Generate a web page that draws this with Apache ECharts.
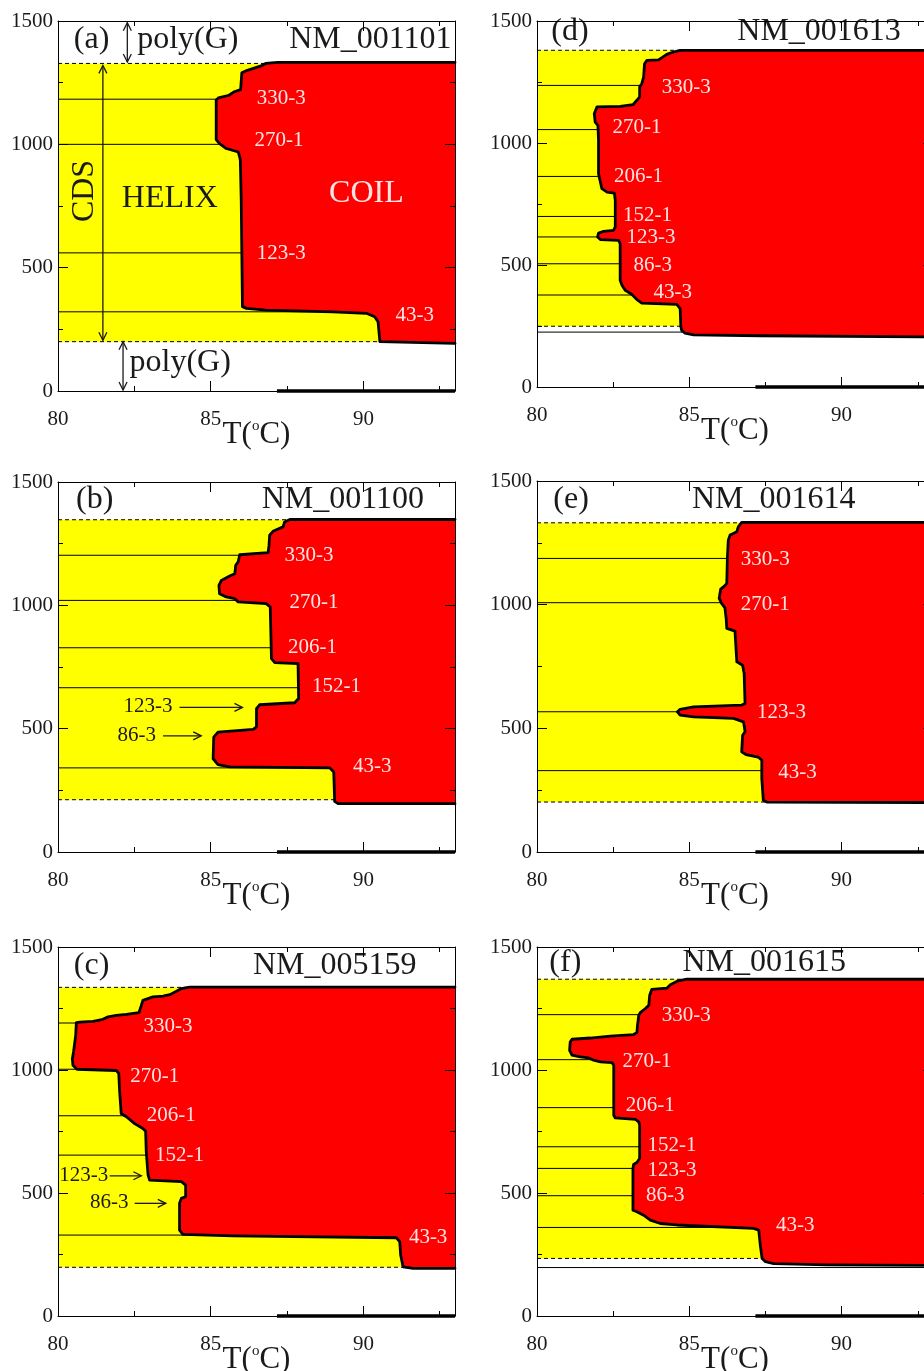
<!DOCTYPE html>
<html><head><meta charset="utf-8">
<script src="https://cdn.jsdelivr.net/npm/echarts@6/dist/echarts.min.js"></script>
<style>html,body{margin:0;padding:0;background:#fff}#c{width:924px;height:1371px}</style>
</head><body><div id="c"></div>
<script>
// ---------- axis ranges ----------
const xRange = [80, 93];
const xStep = 5;
const xMinorStep = 2.5;
const yRange = [0, 1500];
const yStep = 500;

// ---------- panel titles ----------
const panelTags = ['(a)', '(b)', '(c)', '(d)', '(e)', '(f)'];
const geneIds = ['NM_001101', 'NM_001100', 'NM_005159', 'NM_001613', 'NM_001614', 'NM_001615'];
const tagAnchors = [[81.1, 1424], [81.2, 1428], [81.1, 1423], [81.08, 1455], [81.12, 1423], [80.93, 1437]];
const geneAnchors = [[90.23, 1424], [89.33, 1428], [89.06, 1423], [89.26, 1455], [87.77, 1423], [87.46, 1437]];

// poly(G) melting segment on the baseline (same in all panels)
const baseMelt = [[87.17, 0, 93, 0]];

// ---------- (a) NM_001101 ----------
const cdsA = [200, 1328];
const exonA = [1183, 1000, 560, 321];
const boundaryA = [[93,1332],[87.2,1332],[86.8,1328],[86.65,1318],[86.2,1300],[86.02,1290],[85.98,1222],[85.75,1212],[85.6,1199],[85.25,1188],[85.18,1180],[85.18,1019],[85.29,1003],[85.51,983],[85.9,969],[85.95,949],[85.97,936],[86.0,774],[86.04,342],[86.17,335],[86.82,328],[89.0,321],[90.1,315],[90.37,301],[90.48,281],[90.54,200],[90.59,196],[93,193]];
const labelsA = [['330-3',87.31,1185],['270-1',87.24,1017],['123-3',87.31,558],['43-3',91.68,308]];
const darkNotesA = [['HELIX',83.66,782],['poly(G)',84.25,1426],['poly(G)',84.0,117]];
const lightNotesA = [['COIL',90.1,802]];
const rotNotesA = [['CDS',80.87,811]];
const doubleArrowsA = [[82.27,1493,82.27,1334],[81.47,1320,81.47,206],[82.13,200,82.13,4]];

// ---------- (b) NM_001100 ----------
const cdsB = [212, 1347];
const exonB = [1203, 1020, 828, 666, 341];
const boundaryB = [[93,1348],[87.59,1348],[87.42,1338],[87.37,1318],[87.04,1300],[86.93,1284],[86.91,1243],[86.88,1214],[85.95,1205],[85.9,1176],[85.82,1162],[85.79,1128],[85.62,1119],[85.35,1101],[85.27,1081],[85.29,1047],[85.51,1034],[85.79,1027],[85.9,1014],[86.82,1007],[86.95,993],[86.99,784],[87.1,768],[87.86,764],[87.88,622],[87.75,605],[86.6,597],[86.5,581],[86.5,507],[86.39,497],[85.24,486],[85.1,466],[85.08,378],[85.24,354],[85.62,345],[88.9,341],[89.03,324],[89.06,205],[89.17,196],[93,196]];
const labelsB = [['330-3',88.22,1203],['270-1',88.38,1011],['206-1',88.33,828],['152-1',89.12,669],['43-3',90.29,345]];
const darkNotesB = [['123-3',82.95,588],['86-3',82.58,473]];
const arrowsB = [[83.98,586,86.04,586],[83.44,471,84.69,471]];

// ---------- (c) NM_005159 ----------
const cdsC = [198, 1336];
const exonC = [1191, 1003, 814, 654, 329];
const boundaryC = [[93,1337],[84.31,1337],[84.04,1331],[83.88,1320],[83.66,1306],[83.44,1300],[83.11,1297],[82.78,1283],[82.73,1263],[82.65,1233],[82.24,1226],[81.91,1222],[81.64,1216],[81.47,1206],[81.15,1198],[80.71,1195],[80.6,1193],[80.58,1141],[80.51,1074],[80.47,1046],[80.49,1019],[80.62,1003],[81.91,998],[81.99,986],[82.02,911],[82.07,823],[82.24,810],[82.51,782],[82.78,762],[82.87,751],[82.89,667],[82.95,573],[83.0,552],[84.04,546],[84.18,532],[84.18,485],[84.04,478],[83.98,458],[83.98,349],[84.09,332],[85.73,326],[91.08,318],[91.19,302],[91.22,248],[91.3,200],[91.63,194],[93,194]];
const labelsC = [['330-3',83.6,1178],['270-1',83.17,975],['206-1',83.71,814],['152-1',83.98,654],['43-3',92.12,319]];
const darkNotesC = [['123-3',80.84,570],['86-3',81.68,460]];
const arrowsC = [[81.69,570,82.73,570],[82.51,458,83.53,458]];

// ---------- (d) NM_001613 ----------
const cdsD = [249, 1380];
const exonD = [1236, 1055, 863, 699, 615, 505, 377, 225];
const boundaryD = [[93,1380],[84.7,1380],[84.48,1373],[84.26,1363],[84.1,1350],[83.99,1341],[83.61,1339],[83.53,1325],[83.5,1270],[83.44,1243],[83.37,1230],[83.37,1189],[83.28,1175],[83.15,1157],[82.73,1150],[81.97,1148],[81.88,1120],[81.91,1086],[82.0,1072],[82.02,1011],[82.02,874],[82.08,840],[82.13,813],[82.3,799],[82.54,795],[82.57,765],[82.57,656],[82.51,642],[82.19,638],[82.02,631],[81.99,615],[82.08,604],[82.68,601],[82.73,587],[82.73,437],[82.79,417],[82.9,396],[83.11,380],[83.28,358],[83.44,344],[84.59,339],[84.7,321],[84.72,249],[84.75,232],[84.86,221],[85.14,214],[87.32,210],[93,205]];
const labelsD = [['330-3',84.9,1227],['270-1',83.28,1063],['206-1',83.33,861],['152-1',83.63,704],['123-3',83.74,611],['86-3',83.8,499],['43-3',84.46,389]];

// ---------- (e) NM_001614 ----------
const cdsE = [202, 1331];
const exonE = [1187, 1008, 567, 329];
const boundaryE = [[93,1333],[86.72,1333],[86.61,1315],[86.56,1295],[86.34,1282],[86.28,1261],[86.25,1187],[86.23,1086],[86.17,1077],[86.03,1063],[85.98,1025],[86.06,1005],[86.17,987],[86.21,944],[86.23,904],[86.5,893],[86.54,809],[86.56,769],[86.75,755],[86.8,722],[86.83,600],[86.72,594],[85.14,587],[84.7,577],[84.61,567],[84.7,553],[85.14,546],[86.45,540],[86.78,526],[86.83,486],[86.75,472],[86.72,405],[86.86,394],[87.26,384],[87.38,371],[87.38,297],[87.43,209],[87.54,202],[93,200]];
const labelsE = [['330-3',87.49,1184],['270-1',87.49,1001],['123-3',88.03,564],['43-3',88.55,321]];

// ---------- (f) NM_001615 ----------
const cdsF = [234, 1369];
const exonF = [1225, 1042, 847, 688, 600, 489, 360, 197];
const boundaryF = [[93,1369],[84.92,1369],[84.6,1361],[84.38,1347],[84.27,1333],[83.77,1328],[83.7,1304],[83.67,1263],[83.56,1250],[83.39,1233],[83.34,1222],[83.3,1182],[83.28,1152],[83.17,1144],[82.41,1138],[81.75,1130],[81.15,1125],[81.09,1114],[81.07,1080],[81.15,1060],[81.42,1053],[81.7,1049],[81.86,1040],[82.08,1033],[82.46,1030],[82.52,1019],[82.52,816],[82.57,805],[83.23,799],[83.34,789],[83.37,776],[83.37,640],[83.28,624],[83.17,616],[83.15,600],[83.15,430],[83.28,424],[83.5,410],[83.72,390],[84.05,376],[84.6,370],[87.11,356],[87.28,349],[87.33,288],[87.39,234],[87.5,221],[87.77,213],[89.52,208],[93,206]];
const labelsF = [['330-3',84.9,1222],['270-1',83.61,1036],['206-1',83.72,857],['152-1',84.43,694],['123-3',84.43,593],['86-3',84.21,489],['43-3',88.48,366]];

// ---------- assemble ----------
const FONT = 'Liberation Serif';
const YELLOW = '#ffff00', RED = '#ff0000', INK = '#1a1a1a', LIGHT = '#fde4e4';

const panels = [
  {cds: cdsA, exon: exonA, boundary: boundaryA, labels: labelsA, dark: darkNotesA, light: lightNotesA, rot: rotNotesA, arrows: [], dbl: doubleArrowsA},
  {cds: cdsB, exon: exonB, boundary: boundaryB, labels: labelsB, dark: darkNotesB, light: [], rot: [], arrows: arrowsB, dbl: []},
  {cds: cdsC, exon: exonC, boundary: boundaryC, labels: labelsC, dark: darkNotesC, light: [], rot: [], arrows: arrowsC, dbl: []},
  {cds: cdsD, exon: exonD, boundary: boundaryD, labels: labelsD, dark: [], light: [], rot: [], arrows: [], dbl: []},
  {cds: cdsE, exon: exonE, boundary: boundaryE, labels: labelsE, dark: [], light: [], rot: [], arrows: [], dbl: []},
  {cds: cdsF, exon: exonF, boundary: boundaryF, labels: labelsF, dark: [], light: [], rot: [], arrows: [], dbl: []}
];

// grid boxes (layout)
const gridBoxes = [
  {left: 58, top: 21, width: 397, height: 370},
  {left: 58, top: 482, width: 397, height: 370},
  {left: 58, top: 947, width: 397, height: 369},
  {left: 537, top: 21, width: 396, height: 366},
  {left: 537, top: 481, width: 396, height: 371},
  {left: 537, top: 947, width: 396, height: 369}
];

const grids = [], xAxes = [], yAxes = [], series = [];

function xAxisDef(gi, pos, step, major, withLabels) {
  const ax = {
    type: 'value', gridIndex: gi, position: pos, min: xRange[0], max: xRange[1], interval: step, z: 10,
    axisLine: {show: major, lineStyle: {color: '#000', width: 1}},
    axisTick: {show: true, inside: true, length: major ? 10 : 5, lineStyle: {color: '#000', width: 1}},
    axisLabel: {show: withLabels, showMaxLabel: false, fontFamily: FONT, fontSize: 21, color: INK, margin: 18,
      formatter: v => String(v)},
    splitLine: {show: false}
  };
  if (withLabels) {
    ax.name = '{a|T(}{b|o}{a|C)}';
    ax.nameLocation = 'middle';
    ax.nameGap = 28;
    ax.nameMoveOverlap = false;
    ax.nameTextStyle = {
      fontFamily: FONT, color: INK,
      rich: {
        a: {fontFamily: FONT, fontSize: 31, color: INK, lineHeight: 32},
        b: {fontFamily: FONT, fontSize: 15, color: INK, verticalAlign: 'top', lineHeight: 16}
      }
    };
  }
  return ax;
}
function yAxisDef(gi, pos, withLabels) {
  return {
    type: 'value', gridIndex: gi, position: pos, min: yRange[0], max: yRange[1], interval: yStep, z: 10,
    axisLine: {show: true, lineStyle: {color: '#000', width: 1}},
    axisTick: {show: true, inside: true, length: 10, lineStyle: {color: '#000', width: 1}},
    minorTick: {show: true, splitNumber: 2, length: 5, lineStyle: {color: '#000', width: 1}},
    minorSplitLine: {show: false},
    axisLabel: {show: withLabels, fontFamily: FONT, fontSize: 21, color: INK, margin: 5,
      formatter: v => String(v)},
    splitLine: {show: false}
  };
}

function segSeries(xi, yi, segs, style, z, clip) {
  return {
    type: 'custom', coordinateSystem: 'cartesian2d', xAxisIndex: xi, yAxisIndex: yi,
    clip: clip, z: z, silent: true, animation: false, data: segs,
    renderItem: function (params, api) {
      const p1 = api.coord([api.value(0), api.value(1)]);
      const p2 = api.coord([api.value(2), api.value(3)]);
      return {type: 'line', shape: {x1: p1[0], y1: p1[1], x2: p2[0], y2: p2[1]}, style: style};
    }
  };
}
function textSeries(xi, yi, items, size, color, rotation, z) {
  return {
    type: 'custom', coordinateSystem: 'cartesian2d', xAxisIndex: xi, yAxisIndex: yi,
    clip: false, z: z, silent: true, animation: false,
    data: items.map(d => [d[1], d[2]]),
    renderItem: function (params, api) {
      const d = items[params.dataIndex];
      const pt = api.coord([api.value(0), api.value(1)]);
      return {type: 'text', x: pt[0], y: pt[1], rotation: rotation,
        style: {text: d[0], fill: color, fontFamily: FONT, fontSize: size, align: 'center', verticalAlign: 'middle'}};
    }
  };
}
function arrowSeries(xi, yi, arr, both, z) {
  return {
    type: 'custom', coordinateSystem: 'cartesian2d', xAxisIndex: xi, yAxisIndex: yi,
    clip: false, z: z, silent: true, animation: false, data: arr,
    renderItem: function (params, api) {
      const a = api.coord([api.value(0), api.value(1)]);
      const b = api.coord([api.value(2), api.value(3)]);
      const dx = b[0] - a[0], dy = b[1] - a[1], L = Math.hypot(dx, dy), ux = dx / L, uy = dy / L;
      const hl = 8, hw = 4;
      const st = {stroke: INK, fill: null, lineWidth: 1.3};
      const head = (t, vx, vy) => ({type: 'polyline', shape: {points: [
        [t[0] - vx * hl - vy * hw, t[1] - vy * hl + vx * hw], [t[0], t[1]],
        [t[0] - vx * hl + vy * hw, t[1] - vy * hl - vx * hw]]}, style: st});
      const ch = [{type: 'line', shape: {x1: a[0], y1: a[1], x2: b[0], y2: b[1]}, style: st}, head(b, ux, uy)];
      if (both) ch.push(head(a, -ux, -uy));
      return {type: 'group', children: ch};
    }
  };
}

panels.forEach((P, gi) => {
  grids.push(Object.assign({outerBoundsMode: 'none', containLabel: false}, gridBoxes[gi]));
  const xi = xAxes.length, yi = yAxes.length;
  xAxes.push(xAxisDef(gi, 'bottom', xStep, true, true));
  xAxes.push(xAxisDef(gi, 'bottom', xMinorStep, false, false));
  xAxes.push(xAxisDef(gi, 'top', xStep, true, false));
  xAxes.push(xAxisDef(gi, 'top', xMinorStep, false, false));
  yAxes.push(yAxisDef(gi, 'left', true));
  yAxes.push(yAxisDef(gi, 'right', false));

  // yellow CDS band
  series.push({
    type: 'custom', coordinateSystem: 'cartesian2d', xAxisIndex: xi, yAxisIndex: yi,
    clip: true, z: 1, silent: true, animation: false,
    data: [[xRange[0], P.cds[0], xRange[1], P.cds[1]]],
    renderItem: function (params, api) {
      const p1 = api.coord([api.value(0), api.value(1)]);
      const p2 = api.coord([api.value(2), api.value(3)]);
      return {type: 'rect', shape: {x: p1[0], y: p2[1], width: p2[0] - p1[0], height: p1[1] - p2[1]},
        style: {fill: YELLOW}};
    }
  });
  // dashed CDS borders
  series.push(segSeries(xi, yi, P.cds.map(v => [xRange[0], v, xRange[1], v]),
    {stroke: '#000', lineWidth: 1, lineDash: [4, 3]}, 2, true));
  // exon junction lines
  series.push(segSeries(xi, yi, P.exon.map(v => [xRange[0], v, xRange[1], v]),
    {stroke: '#000', lineWidth: 1}, 2, true));
  // red coil region
  const bnd = P.boundary;
  series.push({
    type: 'custom', coordinateSystem: 'cartesian2d', xAxisIndex: xi, yAxisIndex: yi,
    clip: true, z: 3, silent: true, animation: false, data: bnd,
    renderItem: function (params, api) {
      if (params.dataIndex !== 0) return null;
      const pts = bnd.map(p => api.coord(p));
      return {type: 'polygon', shape: {points: pts}, style: {fill: RED}};
    }
  });
  // black boundary
  series.push({
    type: 'line', xAxisIndex: xi, yAxisIndex: yi, data: bnd, symbol: 'none', z: 4, silent: true,
    animation: false, lineStyle: {color: '#000', width: 2.8, join: 'round', cap: 'round'}
  });
  // melting segment on baseline
  series.push(segSeries(xi, yi, baseMelt, {stroke: '#000', lineWidth: 3.5}, 12, false));
  // texts
  series.push(textSeries(xi, yi, P.labels, 21, LIGHT, 0, 6));
  const smallDark = P.dark.filter(d => d[0] !== 'HELIX' && d[0] !== 'poly(G)');
  if (smallDark.length) series.push(textSeries(xi, yi, smallDark, 21, INK, 0, 6));
  const bigDark = P.dark.filter(d => d[0] === 'HELIX' || d[0] === 'poly(G)');
  if (bigDark.length) series.push(textSeries(xi, yi, bigDark, 32, INK, 0, 6));
  if (P.light.length) series.push(textSeries(xi, yi, P.light, 32, LIGHT, 0, 6));
  if (P.rot.length) series.push(textSeries(xi, yi, P.rot, 32, INK, Math.PI / 2, 6));
  if (P.arrows.length) series.push(arrowSeries(xi, yi, P.arrows, false, 6));
  if (P.dbl.length) series.push(arrowSeries(xi, yi, P.dbl, true, 6));
  series.push(textSeries(xi, yi, [[panelTags[gi], tagAnchors[gi][0], tagAnchors[gi][1]]], 32, INK, 0, 6));
  series.push(textSeries(xi, yi, [[geneIds[gi], geneAnchors[gi][0], geneAnchors[gi][1]]], 32, INK, 0, 6));
});

const chart = echarts.init(document.getElementById('c'), null, {renderer: 'canvas'});
chart.setOption({
  animation: false,
  backgroundColor: '#ffffff',
  grid: grids,
  xAxis: xAxes,
  yAxis: yAxes,
  series: series
});
</script>
</body></html>
